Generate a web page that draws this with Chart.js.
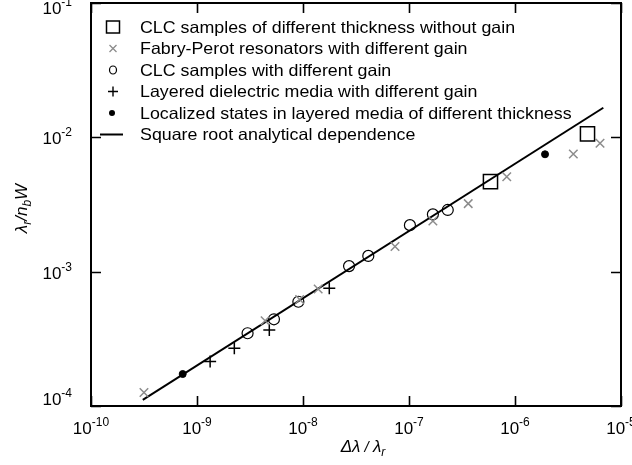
<!DOCTYPE html>
<html><head><meta charset="utf-8">
<script src="https://cdn.jsdelivr.net/npm/chart.js@4/dist/chart.umd.min.js"></script>
<style>html,body{margin:0;padding:0;background:#fff}#wrap{width:632px;height:465px}</style>
</head><body><div id="wrap"><canvas id="c" width="632" height="465"></canvas></div>
<script>
// ---- data ----
const clcNoGainX = [5.87e-7, 4.83e-6];
const clcNoGainY = [4.68e-3, 1.06e-2];
const fabryPerotX = [3.16e-10, 4.39e-9, 9.3e-9, 1.39e-8, 7.38e-8, 1.68e-7, 3.62e-7, 8.36e-7, 3.55e-6, 6.34e-6];
const fabryPerotY = [1.26e-4, 4.31e-4, 6.2e-4, 7.43e-4, 1.54e-3, 2.38e-3, 3.21e-3, 5.09e-3, 7.51e-3, 9.03e-3];
const clcGainX = [3.00e-9, 5.32e-9, 9.04e-9, 2.72e-8, 4.13e-8, 1.02e-7, 1.68e-7, 2.32e-7];
const clcGainY = [3.48e-4, 4.42e-4, 5.97e-4, 1.10e-3, 1.31e-3, 2.22e-3, 2.67e-3, 2.88e-3];
const layeredX = [1.33e-9, 2.25e-9, 4.81e-9, 1.77e-8];
const layeredY = [2.14e-4, 2.69e-4, 3.68e-4, 7.52e-4];
const localizedX = [7.33e-10, 1.92e-6];
const localizedY = [1.73e-4, 7.48e-3];
const sqrtLineX = [3.08e-10, 6.81e-6];
const sqrtLineY = [1.11e-4, 1.66e-2];
const xTickValues = [1e-10, 1e-9, 1e-8, 1e-7, 1e-6, 1e-5];
const xTickExponents = ['-10', '-9', '-8', '-7', '-6', '-5'];
const yTickValues = [1e-4, 1e-3, 1e-2, 1e-1];
const yTickExponents = ['-4', '-3', '-2', '-1'];
const seriesNames = [
  'CLC samples of different thickness without gain',
  'Fabry-Perot resonators with different gain',
  'CLC samples with different gain',
  'Layered dielectric media with different gain',
  'Localized states in layered media of different thickness',
  'Square root analytical dependence'
];

const pts = (xs, ys) => xs.map((v, i) => ({x: v, y: ys[i]}));
const FONT = '"Liberation Sans", Arial, sans-serif';

function drawPow(ctx, exp, x, baseline, align) {
  ctx.font = '17px ' + FONT;
  const w1 = ctx.measureText('10').width;
  ctx.font = '12px ' + FONT;
  const w2 = ctx.measureText(exp).width;
  const total = w1 + w2;
  let sx = align === 'right' ? x - total : x - total / 2;
  ctx.textAlign = 'left';
  ctx.textBaseline = 'alphabetic';
  ctx.font = '17px ' + FONT;
  ctx.fillText('10', sx, baseline);
  ctx.font = '12px ' + FONT;
  ctx.fillText(exp, sx + w1, baseline - 8);
}

function drawRich(ctx, parts, x, baseline) {
  // parts: [text, size, italic, dy]
  let tw = 0;
  parts.forEach(p => { ctx.font = (p[2] ? 'italic ' : '') + p[1] + 'px ' + FONT; tw += ctx.measureText(p[0]).width; });
  let cx = x - tw / 2;
  ctx.textAlign = 'left';
  ctx.textBaseline = 'alphabetic';
  parts.forEach(p => {
    ctx.font = (p[2] ? 'italic ' : '') + p[1] + 'px ' + FONT;
    ctx.fillText(p[0], cx, baseline + p[3]);
    cx += ctx.measureText(p[0]).width;
  });
}

const decor = {
  id: 'decor',
  afterDraw(chart) {
    const {ctx, chartArea: a, scales: {x, y}} = chart;
    ctx.save();
    ctx.strokeStyle = '#000';
    ctx.fillStyle = '#000';
    // frame
    ctx.lineWidth = 2;
    ctx.strokeRect(a.left, a.top, a.right - a.left, a.bottom - a.top);
    // inward ticks
    ctx.lineWidth = 1.6;
    ctx.beginPath();
    xTickValues.forEach(v => {
      const px = Math.round(x.getPixelForValue(v)) + 0.5;
      ctx.moveTo(px, a.bottom); ctx.lineTo(px, a.bottom - 10);
      ctx.moveTo(px, a.top); ctx.lineTo(px, a.top + 10);
    });
    yTickValues.forEach(v => {
      const py = Math.round(y.getPixelForValue(v)) + 0.5;
      ctx.moveTo(a.left, py); ctx.lineTo(a.left + 10, py);
      ctx.moveTo(a.right, py); ctx.lineTo(a.right - 10, py);
    });
    ctx.stroke();
    // tick labels
    xTickValues.forEach((v, i) => {
      drawPow(ctx, xTickExponents[i], x.getPixelForValue(v), a.bottom + 28, 'center');
    });
    yTickValues.forEach((v, i) => {
      const py = y.getPixelForValue(v);
      const bl = Math.min(Math.max(py + 7, a.top + 11), a.bottom - 1);
      drawPow(ctx, yTickExponents[i], a.left - 19, bl, 'right');
    });
    // x title
    drawRich(ctx, [['Δλ', 17, true, 0], [' / ', 15, true, 0], ['λ', 17, true, 0], ['r', 12, true, 4]],
      (a.left + a.right) / 2 + 7, a.bottom + 46);
    // y title (rotated)
    ctx.save();
    ctx.translate(27, (a.top + a.bottom) / 2 + 4);
    ctx.rotate(-Math.PI / 2);
    drawRich(ctx, [['λ', 17, true, 0], ['r', 12, true, 4], ['/', 17, true, 0], ['n', 17, true, 0], ['b', 12, true, 4], ['W', 17, true, 0]], 0, 0);
    ctx.restore();
    // legend
    const mx = a.left + 22, tx = a.left + 49;
    const rows = [a.top + 24, a.top + 45.5, a.top + 67, a.top + 88.5, a.top + 110, a.top + 131.5];
    ctx.font = '16.5px ' + FONT;
    ctx.textAlign = 'left';
    ctx.textBaseline = 'middle';
    seriesNames.forEach((n, i) => {
      ctx.save();
      ctx.translate(tx, rows[i] + 1);
      ctx.scale(1.08, 1);
      ctx.fillText(n, 0, 0);
      ctx.restore();
    });
    // markers
    ctx.lineWidth = 1.5;
    ctx.strokeStyle = '#000';
    ctx.strokeRect(mx - 6.5, rows[0] - 6, 13, 12);
    ctx.strokeStyle = '#8c8c8c';
    ctx.lineWidth = 1.3;
    ctx.beginPath();
    ctx.moveTo(mx - 3.5, rows[1] - 3.5); ctx.lineTo(mx + 3.5, rows[1] + 3.5);
    ctx.moveTo(mx + 3.5, rows[1] - 3.5); ctx.lineTo(mx - 3.5, rows[1] + 3.5);
    ctx.stroke();
    ctx.strokeStyle = '#000';
    ctx.lineWidth = 1.2;
    ctx.beginPath(); ctx.ellipse(mx, rows[2], 3.5, 4, 0, 0, Math.PI * 2); ctx.stroke();
    ctx.lineWidth = 1.4;
    ctx.beginPath();
    ctx.moveTo(mx - 5, rows[3]); ctx.lineTo(mx + 5, rows[3]);
    ctx.moveTo(mx, rows[3] - 5); ctx.lineTo(mx, rows[3] + 5);
    ctx.stroke();
    ctx.beginPath(); ctx.arc(mx - 1, rows[4], 3, 0, Math.PI * 2); ctx.fill();
    ctx.lineWidth = 2;
    ctx.beginPath(); ctx.moveTo(mx - 13, rows[5]); ctx.lineTo(mx + 10, rows[5]); ctx.stroke();
    ctx.restore();
  }
};

new Chart(document.getElementById('c'), {
  type: 'scatter',
  data: {
    datasets: [
      {label: seriesNames[0], data: pts(clcNoGainX, clcNoGainY), pointStyle: 'rect', pointRadius: 10,
        backgroundColor: 'rgba(0,0,0,0)', borderColor: '#000', borderWidth: 1.5},
      {label: seriesNames[1], data: pts(fabryPerotX, fabryPerotY), pointStyle: 'crossRot', pointRadius: 6,
        borderColor: '#8c8c8c', backgroundColor: '#8c8c8c', borderWidth: 1.5},
      {label: seriesNames[2], data: pts(clcGainX, clcGainY), pointStyle: 'circle', pointRadius: 5.5,
        backgroundColor: 'rgba(0,0,0,0)', borderColor: '#000', borderWidth: 1.2},
      {label: seriesNames[3], data: pts(layeredX, layeredY), pointStyle: 'cross', pointRadius: 6,
        borderColor: '#000', borderWidth: 1.5},
      {label: seriesNames[4], data: pts(localizedX, localizedY), pointStyle: 'circle', pointRadius: 3.5,
        backgroundColor: '#000', borderColor: '#000', borderWidth: 1},
      {label: seriesNames[5], type: 'line', data: pts(sqrtLineX, sqrtLineY), showLine: true, pointRadius: 0,
        borderColor: '#000', borderWidth: 2, fill: false, tension: 0}
    ]
  },
  options: {
    responsive: false,
    animation: false,
    devicePixelRatio: 1,
    events: [],
    layout: {autoPadding: false, padding: {left: 0, right: 11, top: 3, bottom: 0}},
    plugins: {legend: {display: false}, tooltip: {enabled: false}},
    scales: {
      x: {type: 'logarithmic', min: 1e-10, max: 1e-5,
        grid: {display: false}, border: {display: false}, ticks: {display: false},
        afterFit: s => { s.height = 59; s.paddingLeft = 0; s.paddingRight = 0; }},
      y: {type: 'logarithmic', min: 1e-4, max: 1e-1,
        grid: {display: false}, border: {display: false}, ticks: {display: false},
        afterFit: s => { s.width = 91; s.paddingTop = 0; s.paddingBottom = 0; }}
    }
  },
  plugins: [decor]
});
</script></body></html>
